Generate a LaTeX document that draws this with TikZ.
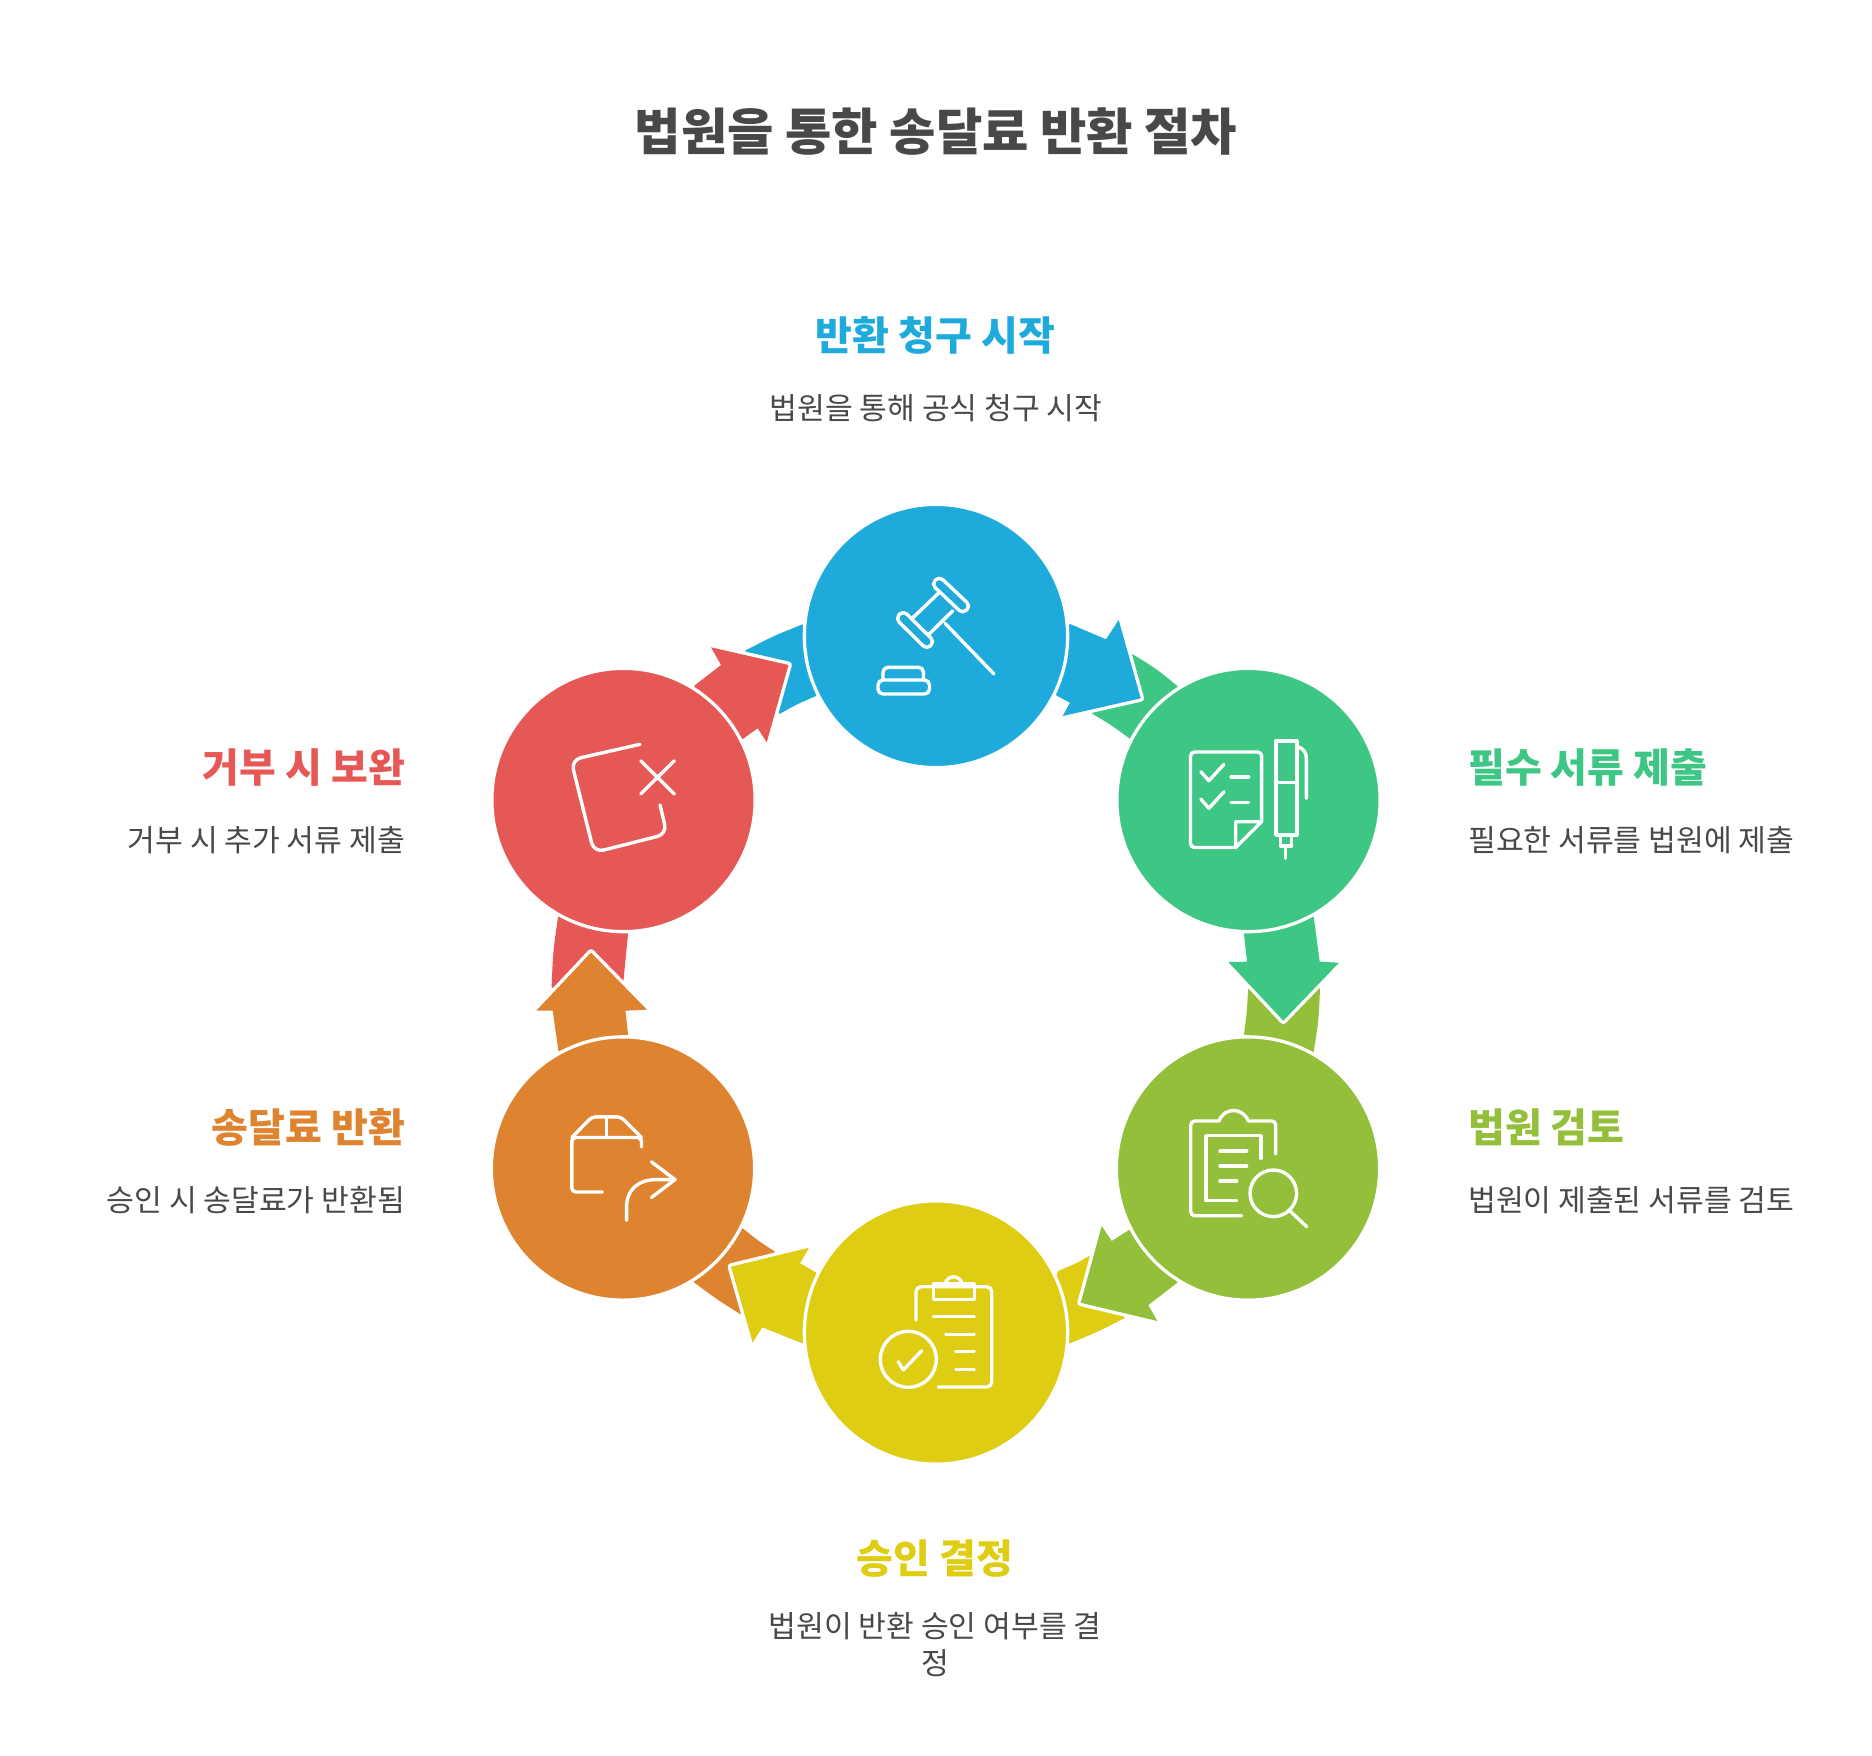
\documentclass[tikz,border=0pt]{standalone}
\usepackage{fontspec}
\setmainfont{Noto Sans CJK KR}
\definecolor{cblue}{HTML}{1EABDC}
\definecolor{cgreen}{HTML}{3EC685}
\definecolor{colive}{HTML}{94BF3A}
\definecolor{cyellow}{HTML}{DFCD14}
\definecolor{corange}{HTML}{DE8330}
\definecolor{cred}{HTML}{E65855}
\definecolor{ctext}{HTML}{484848}
\tikzset{
  hub/.style={circle,minimum size=263.3pt,inner sep=0pt,draw=white,line width=3.3pt,fill=#1},
  wedgeshape/.style={fill=#1},
  headshape/.style={fill=#1,preaction={draw=white,line width=6.8pt,line join=round}},
  glyph/.style={draw=white,line width=3.4pt,line cap=round,line join=round},
  titletext/.style={font=\fontsize{50.4}{60}\selectfont\bfseries,text=ctext,inner sep=0pt},
  headtext/.style={font=\fontsize{40}{48}\selectfont\bfseries,text=#1,inner sep=0pt},
  desctext/.style={font=\fontsize{30.2}{37}\selectfont,text=ctext,inner sep=0pt},
}
\begin{document}
\begin{tikzpicture}[x=1pt,y=-1pt]
\useasboundingbox (0,0) rectangle (1872,1756);
% tails behind the heads
\path[wedgeshape=cgreen] (1132.7,654.3) .. controls (1156.4,668.8) .. (1177.3,686) -- (1200,740) -- (1129.3,738.3) .. controls (1110.6,724.6) .. (1091.7,713.3) -- (1100,670) -- cycle;
\path[wedgeshape=colive] (1320,988.7) .. controls (1318.7,1020) .. (1313.7,1051.7) -- (1290,1080) -- (1244,1034) .. controls (1247,1011.5) .. (1248,989.3) -- (1283,960) -- cycle;
\path[wedgeshape=cyellow] (1125,1317.7) .. controls (1098,1331.8) .. (1070,1343.3) -- (1040,1320) -- (1058,1271) .. controls (1075,1264) .. (1089,1256) -- (1110,1290) -- cycle;
\path[wedgeshape=corange] (740.7,1314.3) .. controls (716.3,1299) .. (693.5,1282) -- (680,1240) -- (742.7,1228.3) .. controls (758,1240.6) .. (775,1251.7) -- (760,1290) -- cycle;
\path[wedgeshape=cred] (551.6,987.5) .. controls (553,952) .. (558,917) -- (600,900) -- (628,934) .. controls (624.8,957) .. (623.5,980.4) -- (590,1000) -- cycle;
\path[wedgeshape=cblue] (745,650.7) .. controls (773.4,636) .. (802.7,624.3) -- (840,660) -- (816,696) .. controls (797.3,704) .. (779.5,714) -- (770,680) -- cycle;
% arrows
\path[headshape=cblue] (1070,624) -- (1106,639.3) -- (1118.7,620) -- (1140.7,698.3) -- (1062.7,716) -- (1070,702.7) -- (1056.7,695.7) -- (1040,660) -- cycle;
\path[headshape=cgreen] (1313.7,916.7) -- (1319.7,961.7) -- (1339,962.7) -- (1283.3,1020.7) -- (1228.3,962) -- (1247,961.7) -- (1244,934) -- (1280,900) -- cycle;
\path[headshape=colive] (1129,1230) -- (1111.7,1241) -- (1101.7,1226) -- (1080.7,1302.7) -- (1157.3,1321) -- (1148.3,1305) -- (1177.3,1282.7) -- (1180,1240) -- cycle;
\path[headshape=cyellow] (815.7,1272.3) -- (800,1263.3) -- (809,1247.7) -- (731,1266.7) -- (752.7,1342.7) -- (762.3,1327.3) -- (802.3,1343.3) -- (840,1310) -- cycle;
\path[headshape=corange] (558.5,1051.4) -- (552.7,1010.7) -- (536.3,1010.7) -- (591,952.5) -- (646.9,1009.6) -- (625.4,1010.7) -- (628,1034.3) -- (600,1060) -- cycle;
\path[headshape=cred] (694.3,685.7) -- (721,665) -- (711,647.3) -- (788.5,665) -- (766.7,742.3) -- (757.7,728.3) -- (742.7,739) -- (700,720) -- cycle;
% hubs
\node[hub=cblue]   (n1) at (936,636) {};
\node[hub=cgreen]  (n2) at (1248.5,800) {};
\node[hub=colive]  (n3) at (1248,1168.5) {};
\node[hub=cyellow] (n4) at (936,1332.5) {};
\node[hub=corange] (n5) at (623,1168.5) {};
\node[hub=cred]    (n6) at (623.5,800) {};
% gavel
\draw[glyph,rounded corners=5pt] (939.1,576.2) -- (970.5,605.8) -- (962.9,613.8) -- (931.5,584.2) -- cycle;
\draw[glyph,rounded corners=5pt] (903.1,610.5) -- (934.5,641.5) -- (926.9,649.5) -- (895.5,618.5) -- cycle;
\draw[glyph] (940,591.7) -- (913.3,617.3) (952.7,610.7) -- (928.3,635) (945,623.3) -- (994,674);
\draw[glyph,rounded corners=5pt] (878,680) rectangle (929.5,694);
\draw[glyph,rounded corners=5pt] (883,680) -- (883,667.3) -- (923.5,667.3) -- (923.5,680);
% checklist and pen
\draw[glyph,rounded corners=4pt] (1235.7,847.5) -- (1190.5,847.5) -- (1190.5,752) -- (1261.6,752) -- (1261.6,821.7);
\draw[glyph] (1261.6,821.7) -- (1235.7,847.5) -- (1235.7,821.7) -- cycle;
\draw[glyph] (1200.8,771.7) -- (1208.9,780.7) -- (1224,764.3) (1200.8,799) -- (1208.9,808.3) -- (1224,791.7);
\draw[glyph] (1231,777) -- (1248.6,777) (1231,802.3) -- (1248.6,802.3);
\draw[glyph] (1275.9,741) rectangle (1296.9,835) (1275.9,782.3) -- (1296.9,782.3);
\draw[glyph] (1280.4,835) rectangle (1291.5,846) (1285.7,846) -- (1285.7,858.3);
\draw[glyph] (1298.2,746.7) .. controls (1304,749) and (1306.3,753) .. (1306.3,758.3) -- (1306.3,798.3);
% clipboard and lens
\draw[glyph,rounded corners=4pt] (1275.7,1154) -- (1275.7,1121) -- (1248.3,1121);
\draw[glyph] (1248.3,1121) .. controls (1243,1107) and (1224,1107) .. (1219,1121);
\draw[glyph,rounded corners=4pt] (1219,1121) -- (1190.7,1121) -- (1190.7,1215.7) -- (1241.7,1215.7);
\draw[glyph] (1261,1158.3) -- (1261,1135.7) -- (1206,1135.7) -- (1206,1200.7) -- (1236.7,1200.7);
\draw[glyph] (1220,1151) -- (1246.7,1151) (1220,1166) -- (1246.7,1166) (1220,1181) -- (1236.7,1181);
\draw[glyph] (1273.3,1193.3) circle[radius=23.3] (1290,1211) -- (1306.7,1226.7);
% approval clipboard
\draw[glyph,rounded corners=5pt] (916,1320) -- (916,1286.7) -- (991.7,1286.7) -- (991.7,1387) -- (938.3,1387);
\draw[glyph] (933.3,1284) rectangle (974.3,1299.3);
\draw[glyph] (945,1284) .. controls (947,1274.5) and (960,1274.5) .. (962.3,1284);
\draw[glyph] (933.3,1316.7) -- (974.3,1316.7) (945.7,1334.3) -- (974.3,1334.3) (955.7,1351.7) -- (974.3,1351.7) (955.7,1369.3) -- (974.3,1369.3);
\draw[glyph] (908.3,1359.3) circle[radius=28];
\draw[glyph] (898.3,1361.7) -- (903.3,1370) -- (921.7,1350.7);
% box with arrow
\draw[glyph,rounded corners=4pt] (602.5,1192) -- (571.8,1192) -- (571.8,1137.5) -- (641.5,1137.5) -- (641.5,1147);
\draw[glyph,rounded corners=4pt] (571.8,1137.5) -- (592,1116.8) -- (620.8,1116.8) -- (641.5,1137.5);
\draw[glyph] (606.3,1116.8) -- (606.3,1137.5);
\draw[glyph] (626.6,1220.4) -- (626.6,1207) .. controls (626.6,1190) and (638,1179.6) .. (656,1179.6) -- (675,1179.6);
\draw[glyph] (651.4,1161.8) -- (675,1179.6) -- (651.4,1197.5);
% rejected sheet
\draw[glyph,rounded corners=10pt] (640,744.3) -- (571,760) -- (594,852.5) -- (667,834) -- (660,805);
\draw[glyph] (640.7,760.7) -- (674.3,794) (674.3,760.7) -- (640.7,794);
% texts
\node[titletext,anchor=base] (title) at (936,150) {법원을 통한 송달료 반환 절차};
\node[headtext=cblue,anchor=base] (h1) at (935.5,350) {반환 청구 시작};
\node[desctext,anchor=base] (d1) at (936,419.8) {법원을 통해 공식 청구 시작};
\node[headtext=cgreen,anchor=base west] (h2) at (1468,782) {필수 서류 제출};
\node[desctext,anchor=base west] (d2) at (1468,851.7) {필요한 서류를 법원에 제출};
\node[headtext=colive,anchor=base west] (h3) at (1468,1142) {법원 검토};
\node[desctext,anchor=base west] (d3) at (1468,1211.2) {법원이 제출된 서류를 검토};
\node[headtext=cyellow,anchor=base] (h4) at (935,1573) {승인 결정};
\node[desctext,align=center,anchor=center] (d4) at (935,1644.5) {법원이 반환 승인 여부를 결\\정};
\node[headtext=corange,anchor=base east] (h5) at (405,1142) {송달료 반환};
\node[desctext,anchor=base east] (d5) at (405,1211.2) {승인 시 송달료가 반환됨};
\node[headtext=cred,anchor=base east] (h6) at (405,782) {거부 시 보완};
\node[desctext,anchor=base east] (d6) at (405,851.7) {거부 시 추가 서류 제출};
\end{tikzpicture}
\end{document}
